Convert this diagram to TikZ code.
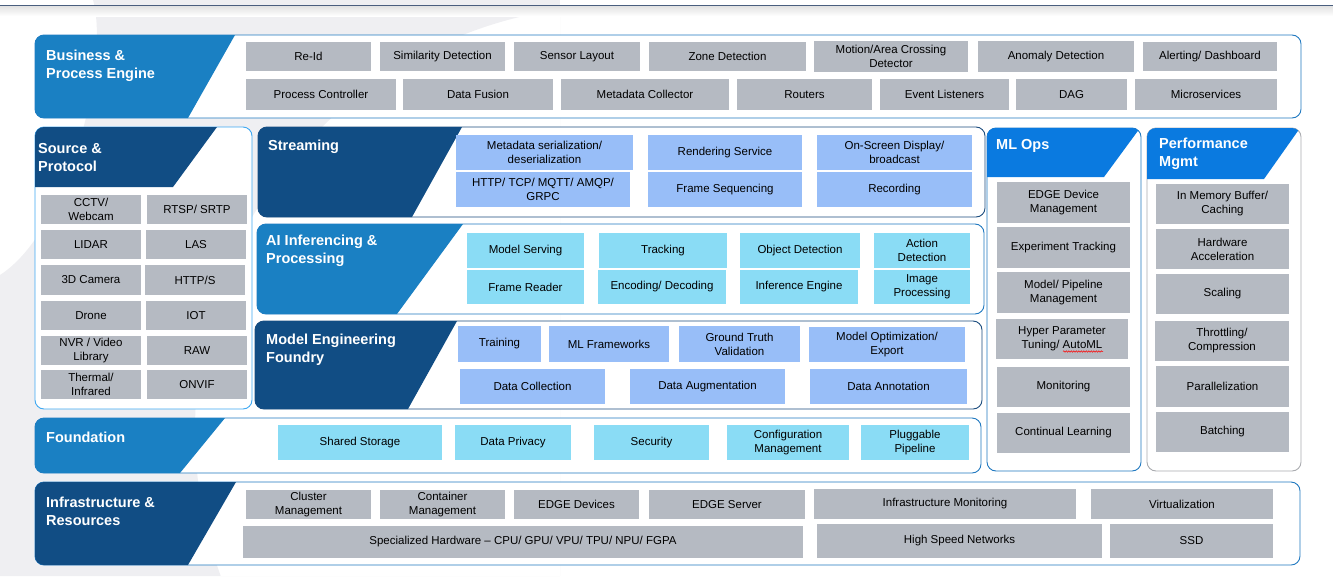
\documentclass[tikz,border=0pt]{standalone}
\usepackage{fontspec}
\setmainfont{Liberation Sans}
\usetikzlibrary{decorations.pathmorphing}

\definecolor{hdrnavy}{HTML}{114D84}
\definecolor{hdrblue}{HTML}{1A80C3}
\definecolor{hdrbright}{HTML}{0A7AE0}
\definecolor{framenavy}{HTML}{1B4C7E}
\definecolor{frameblue}{HTML}{1F78C0}
\definecolor{framelight}{HTML}{3EA8F2}
\definecolor{framegray}{HTML}{A9ABAF}
\definecolor{boxgray}{HTML}{B5BAC2}
\definecolor{boxperi}{HTML}{98BEF8}
\definecolor{boxcyan}{HTML}{8ADCF5}
\definecolor{wmark}{HTML}{EFEFF2}
\definecolor{topline}{HTML}{4A5E7E}

\tikzset{
  cell/.style={inner sep=0pt, align=center, text=black, font=\fontsize{11.5}{14}\selectfont},
  gcell/.style={cell, fill=boxgray},
  pcell/.style={cell, fill=boxperi},
  ccell/.style={cell, fill=boxcyan},
  sz/.style 2 args={minimum width=#1, minimum height=#2},
  ttl/.style={anchor=north west, inner sep=0pt, align=left, text=white, font=\bfseries\fontsize{14.5}{18}\selectfont},
  panel/.style={line width=0.9pt, rounded corners=9pt, fill=white},
}

\begin{document}
\begin{tikzpicture}[x=1pt,y=-1pt]
\useasboundingbox (0,0) rectangle (1333,576);

\begin{scope}
  \clip (93,0) .. controls (110,60) and (70,230) .. (0,275) -- (0,576) -- (560,576) -- (560,0) -- cycle;
  \fill[wmark, even odd rule] (0,0) rectangle (560,576) (620,430) circle[radius=425];
\end{scope}
\shade[top color=black!12, bottom color=white] (0,5.5) rectangle (1333,16);
\draw[topline, line width=1pt] (0,5) -- (1333,5);

% layers
\draw[panel, draw=frameblue] (35,35) rectangle (1301,118);
\begin{scope}
  \clip[rounded corners=9pt] (35,35) rectangle (1301,118);
  \fill[hdrblue] (0,35) -- (235,35) -- (188,118) -- (0,118) -- cycle;
\end{scope}
\node[ttl] (bizttl) at (46,50) {Business \&\\Process Engine};

\draw[panel, draw=framelight] (35,127) rectangle (252,409);
\begin{scope}
  \clip[rounded corners=9pt] (35,127) rectangle (252,409);
  \fill[hdrnavy] (0,127) -- (217,127) -- (173,187) -- (0,187) -- cycle;
\end{scope}
\node[ttl] (srcttl) at (38,143) {Source \&\\Protocol};

\draw[panel, draw=framenavy] (258,127) rectangle (985,217);
\begin{scope}
  \clip[rounded corners=9pt] (258,127) rectangle (985,217);
  \fill[hdrnavy] (250,127) -- (462,127) -- (412,217) -- (250,217) -- cycle;
\end{scope}
\node[ttl] (strttl) at (268,140) {Streaming};

\draw[panel, draw=frameblue] (257,224) rectangle (984,314);
\begin{scope}
  \clip[rounded corners=9pt] (257,224) rectangle (984,314);
  \fill[hdrblue] (250,224) -- (463,224) -- (397,314) -- (250,314) -- cycle;
\end{scope}
\node[ttl] (aittl) at (266,235) {AI Inferencing \&\\Processing};

\draw[panel, draw=framenavy] (255,321) rectangle (982,409);
\begin{scope}
  \clip[rounded corners=9pt] (255,321) rectangle (982,409);
  \fill[hdrnavy] (250,321) -- (457,321) -- (408,409) -- (250,409) -- cycle;
\end{scope}
\node[ttl] (mefttl) at (266,334) {Model Engineering\\Foundry};

\draw[panel, draw=frameblue] (35,418) rectangle (981,473);
\begin{scope}
  \clip[rounded corners=9pt] (35,418) rectangle (981,473);
  \fill[hdrblue] (0,418) -- (225,418) -- (180,473) -- (0,473) -- cycle;
\end{scope}
\node[ttl] (fndttl) at (46,432) {Foundation};

\draw[panel, draw=frameblue] (35,482) rectangle (1300,565);
\begin{scope}
  \clip[rounded corners=9pt] (35,482) rectangle (1300,565);
  \fill[hdrnavy] (0,482) -- (236,482) -- (188,565) -- (0,565) -- cycle;
\end{scope}
\node[ttl] (infttl) at (46,497) {Infrastructure \&\\Resources};

\draw[panel, draw=frameblue] (987,128) rectangle (1141,471);
\begin{scope}
  \clip[rounded corners=9pt] (987,128) rectangle (1141,471);
  \fill[hdrbright] (980,128) -- (1140,128) -- (1104,177) -- (980,177) -- cycle;
\end{scope}
\node[ttl] (mlottl) at (996,139) {ML Ops};

\draw[panel, draw=framegray] (1147,128) rectangle (1301,471);
\begin{scope}
  \clip[rounded corners=9pt] (1147,128) rectangle (1301,471);
  \fill[hdrbright] (1140,128) -- (1300,128) -- (1264,179) -- (1140,179) -- cycle;
\end{scope}
\node[ttl] (perfttl) at (1159,138) {Performance\\Mgmt};

% business & process engine
\node[gcell, sz={125}{29}] (reid) at (308.5,56.5) {Re-Id};
\node[gcell, sz={125}{29}] (simdet) at (442.5,56.5) {Similarity Detection};
\node[gcell, sz={126}{29}] (senslay) at (577,56.5) {Sensor Layout};
\node[gcell, sz={157}{29}] (zonedet) at (727.5,56.5) {Zone Detection};
\node[gcell, sz={154}{31}] (motion) at (891,56.5) {Motion/Area Crossing\\Detector};
\node[gcell, sz={156}{31}] (anomaly) at (1056,56.5) {Anomaly Detection};
\node[gcell, sz={134}{29}] (alerting) at (1210,56.5) {Alerting/ Dashboard};
\node[gcell, sz={150}{31}] (procctl) at (321,94.5) {Process Controller};
\node[gcell, sz={150}{31}] (datafus) at (478,94.5) {Data Fusion};
\node[gcell, sz={168}{31}] (metacol) at (645,94.5) {Metadata Collector};
\node[gcell, sz={135}{31}] (routers) at (804.5,94.5) {Routers};
\node[gcell, sz={129}{31}] (evlist) at (944.5,94.5) {Event Listeners};
\node[gcell, sz={111}{31}] (dag) at (1071.5,94.5) {DAG};
\node[gcell, sz={142}{31}] (micro) at (1206,94.5) {Microservices};

% source & protocol
\node[gcell, sz={100}{29}] (cctv) at (91,209.5) {CCTV/\\Webcam};
\node[gcell, sz={100}{29}] (rtsp) at (197,209.5) {RTSP/ SRTP};
\node[gcell, sz={100}{29}] (lidar) at (91,244.5) {LIDAR};
\node[gcell, sz={100}{29}] (las) at (196,244.5) {LAS};
\node[gcell, sz={100}{30}] (cam3d) at (91,280) {3D Camera};
\node[gcell, sz={100}{30}] (https) at (195,280) {HTTP/S};
\node[gcell, sz={100}{29}] (drone) at (91,315.5) {Drone};
\node[gcell, sz={100}{29}] (iot) at (196,315.5) {IOT};
\node[gcell, sz={100}{29}] (nvr) at (91,350.5) {NVR / Video\\Library};
\node[gcell, sz={100}{29}] (raw) at (197,350.5) {RAW};
\node[gcell, sz={100}{29}] (thermal) at (91,384) {Thermal/\\Infrared};
\node[gcell, sz={100}{29}] (onvif) at (197,384.5) {ONVIF};

% streaming
\node[pcell, sz={177}{35}] (metaser) at (544.5,152.5) {Metadata serialization/\\deserialization};
\node[pcell, sz={174}{35}] (httptcp) at (543,189.5) {HTTP/ TCP/ MQTT/ AMQP/\\GRPC};
\node[pcell, sz={154}{35}] (render) at (725,152.5) {Rendering Service};
\node[pcell, sz={154}{35}] (frameseq) at (725,189.5) {Frame Sequencing};
\node[pcell, sz={155}{35}] (osd) at (894.5,152.5) {On-Screen Display/\\broadcast};
\node[pcell, sz={155}{35}] (recording) at (894.5,189.5) {Recording};

% ai inferencing & processing
\node[ccell, sz={117}{35}] (modserv) at (525.5,250.5) {Model Serving};
\node[ccell, sz={117}{34}] (framerd) at (525.5,287) {Frame Reader};
\node[ccell, sz={128}{35}] (tracking) at (663,250.5) {Tracking};
\node[ccell, sz={128}{34}] (encdec) at (662,287) {Encoding/ Decoding};
\node[ccell, sz={120}{35}] (objdet) at (800,250.5) {Object Detection};
\node[ccell, sz={118}{34}] (infeng) at (799,287) {Inference Engine};
\node[ccell, sz={96}{35}] (actdet) at (922,250.5) {Action\\Detection};
\node[ccell, sz={96}{34}] (imgproc) at (922,287) {Image\\Processing};

% model engineering foundry
\node[pcell, sz={83}{36}] (training) at (499.5,344) {Training};
\node[pcell, sz={120}{36}] (mlfw) at (609,344) {ML Frameworks};
\node[pcell, sz={121}{36}] (gtval) at (739.5,344) {Ground Truth\\Validation};
\node[pcell, sz={156}{35}] (modopt) at (887,344.5) {Model Optimization/\\Export};
\node[pcell, sz={145}{35}] (datacol) at (532.5,386.5) {Data Collection};
\node[pcell, sz={155}{35}] (dataaug) at (707.5,386.5) {Data Augmentation};
\node[pcell, sz={157}{35}] (dataann) at (888.5,386.5) {Data Annotation};

% foundation
\node[ccell, sz={164}{35}] (sharedst) at (360,442.5) {Shared Storage};
\node[ccell, sz={116}{35}] (privacy) at (513,442.5) {Data Privacy};
\node[ccell, sz={115}{35}] (security) at (651.5,442.5) {Security};
\node[ccell, sz={122}{35}] (config) at (788,442.5) {Configuration\\Management};
\node[ccell, sz={108}{35}] (pluggable) at (915,442.5) {Pluggable\\Pipeline};

% infrastructure & resources
\node[gcell, sz={125}{29}] (cluster) at (308.5,504.5) {Cluster\\Management};
\node[gcell, sz={125}{29}] (container) at (442.5,504.5) {Container\\Management};
\node[gcell, sz={125}{29}] (edgedev) at (576.5,504.5) {EDGE Devices};
\node[gcell, sz={156}{29}] (edgesrv) at (727,504.5) {EDGE Server};
\node[gcell, sz={262}{30}] (inframon) at (945,504) {Infrastructure Monitoring};
\node[gcell, sz={182}{30}] (virt) at (1182,504) {Virtualization};
\node[gcell, sz={560}{32}] (spechw) at (523,542) {Specialized Hardware – CPU/ GPU/ VPU/ TPU/ NPU/ FGPA};
\node[gcell, sz={285}{34}] (highspeed) at (959.5,541) {High Speed Networks};
\node[gcell, sz={163}{34}] (ssd) at (1191.5,541) {SSD};

% ml ops
\node[gcell, sz={133}{41}] (edgemgmt) at (1063.5,202.5) {EDGE Device\\Management};
\node[gcell, sz={133}{41}] (exptrack) at (1063.5,247.5) {Experiment Tracking};
\node[gcell, sz={133}{41}] (pipemgmt) at (1063.5,292.5) {Model/ Pipeline\\Management};
\node[gcell, sz={132}{40}] (hyper) at (1062,339) {Hyper Parameter\\Tuning/ AutoML};
\node[gcell, sz={133}{40}] (monitoring) at (1063.5,387) {Monitoring};
\node[gcell, sz={133}{40}] (contlearn) at (1063.5,433) {Continual Learning};
\draw[red, line width=0.5pt, decorate, decoration={snake, amplitude=0.7pt, segment length=2.5pt}] (1063,351.5) -- (1103,351.5);

% performance mgmt
\node[gcell, sz={133}{40}] (inmem) at (1222.5,204) {In Memory Buffer/\\Caching};
\node[gcell, sz={133}{40}] (hwacc) at (1222.5,249) {Hardware\\Acceleration};
\node[gcell, sz={133}{40}] (scaling) at (1222.5,294) {Scaling};
\node[gcell, sz={134}{40}] (throttle) at (1222,341) {Throttling/\\Compression};
\node[gcell, sz={133}{41}] (parallel) at (1222.5,386.5) {Parallelization};
\node[gcell, sz={133}{40}] (batching) at (1222.5,432) {Batching};
\end{tikzpicture}
\end{document}
